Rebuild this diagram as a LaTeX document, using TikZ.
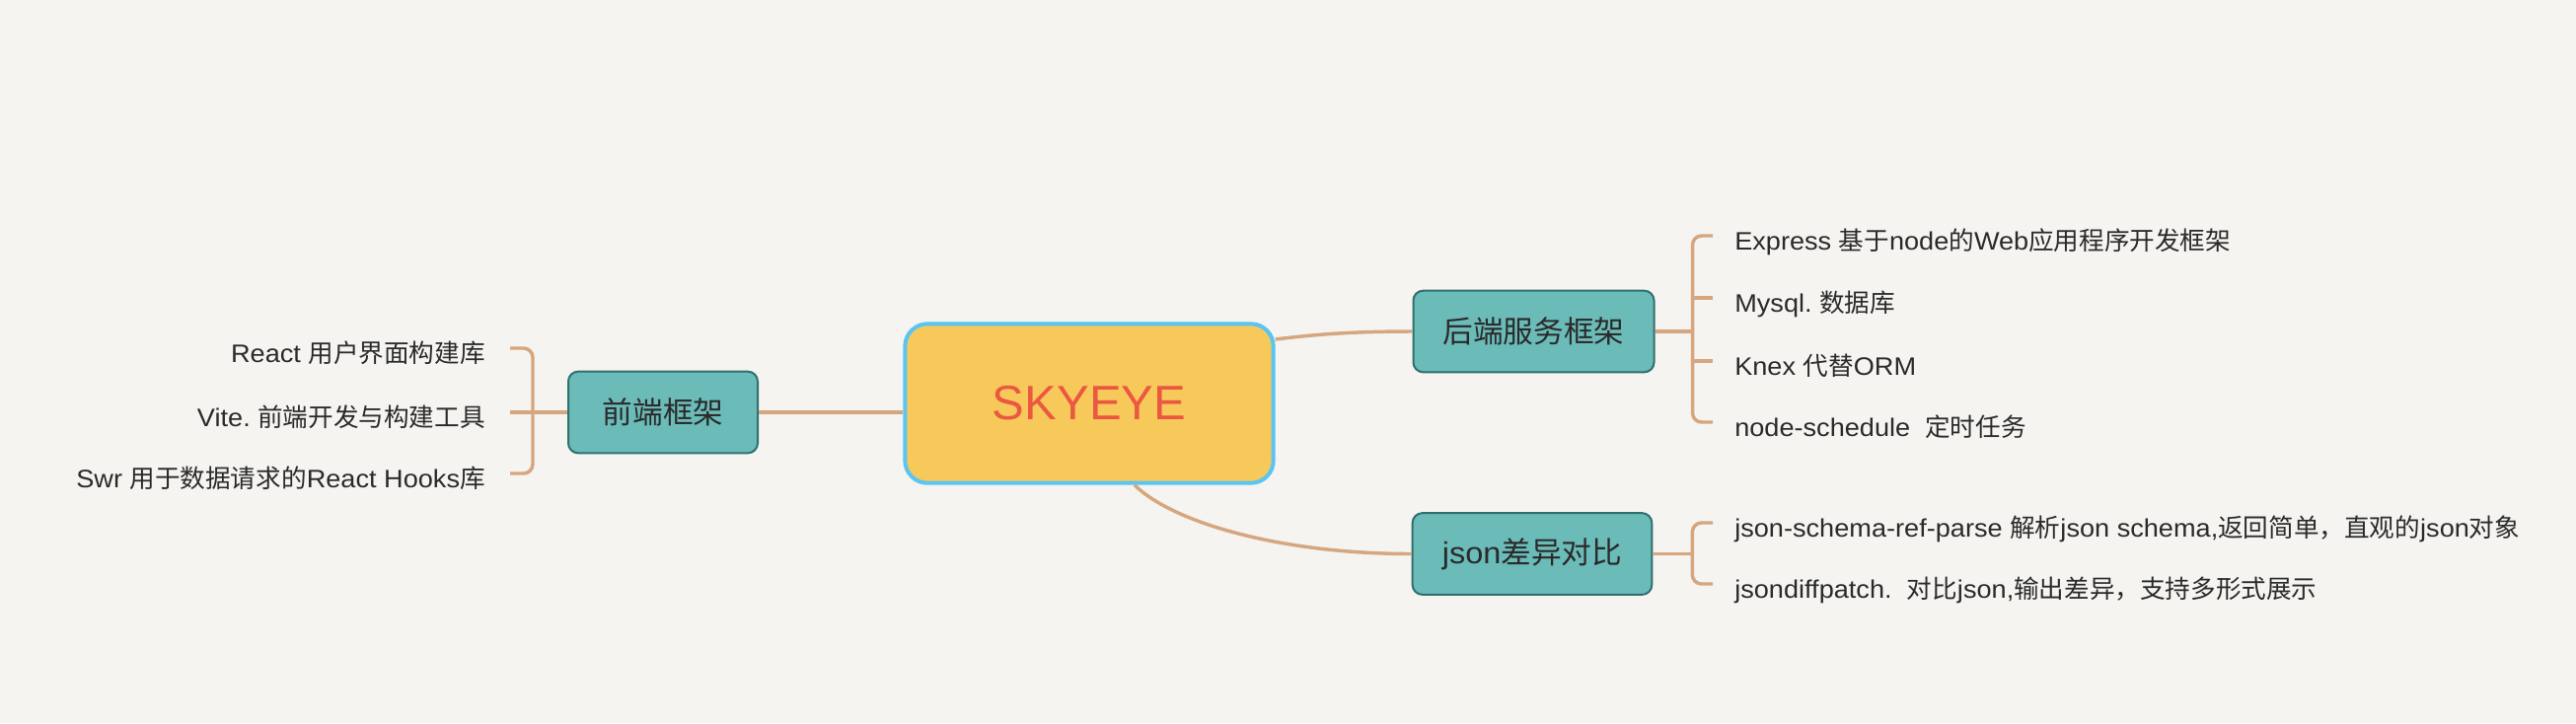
\documentclass[tikz,border=0pt]{standalone}
\usepackage{fontspec}
\setmainfont{Liberation Sans}
\newfontfamily\lat[FakeStretch=1.06]{Liberation Sans}
\newfontfamily\rootfont{Liberation Sans}
\newfontfamily\cjk{Noto Sans CJK SC}
\frenchspacing

% Han characters are set in the CJK font, the rest in \lat
\newXeTeXintercharclass\hanclass
\newcount\hanchar
\hanchar="4E00
\loop\ifnum\hanchar<"A000
  \XeTeXcharclass\hanchar=\hanclass
  \advance\hanchar by 1
\repeat
\hanchar="21
\loop\ifnum\hanchar<"7F
  \XeTeXcharclass\hanchar=0
  \advance\hanchar by 1
\repeat
\XeTeXcharclass"FF0C=\hanclass
\XeTeXinterchartoks 0 \hanclass={\cjk}
\XeTeXinterchartoks 4095 \hanclass={\cjk}
\XeTeXinterchartoks \hanclass 0={\lat}
\XeTeXinterchartokenstate=1

\definecolor{paper}{HTML}{F5F4F0}
\definecolor{tan}{HTML}{D6A67F}
\definecolor{tealfill}{HTML}{6BBBB9}
\definecolor{tealline}{HTML}{30706F}
\definecolor{rootfill}{HTML}{F7C95B}
\definecolor{rootline}{HTML}{58C5F3}
\definecolor{roottext}{HTML}{EB5841}
\definecolor{ink}{HTML}{2A2A2A}

\begin{document}
\begin{tikzpicture}[x=0.75pt,y=-0.75pt,
  root node/.style={rectangle,rounded corners=17pt,draw=rootline,line width=3pt,fill=rootfill,
    text=roottext,minimum width=280pt,minimum height=121pt,font=\fontsize{36.75}{40}\rootfont},
  main node/.style={rectangle,rounded corners=7.5pt,draw=tealline,line width=1.5pt,fill=tealfill,
    text=ink,minimum height=62pt,font=\fontsize{23}{26}\lat},
  leaf node/.style={inner sep=0pt,text=ink,font=\fontsize{19.2}{22}\lat},
  branch/.style={draw=tan,line width=2.6pt}]

  \fill[paper] (0,0) rectangle (2611,733);

  \node[root node] (0) at (1104,409) {SKYEYE};
  \node[main node,minimum width=144pt] (1) at (672,418) {前端框架};
  \node[main node,minimum width=183pt] (2) at (1554.5,336) {后端服务框架};
  \node[main node,minimum width=182pt] (3) at (1553,561.5) {json差异对比};

  \node[leaf node,anchor=base east] (11) at (492,367) {React 用户界面构建库};
  \node[leaf node,anchor=base east] (12) at (492,432) {Vite. 前端开发与构建工具};
  \node[leaf node,anchor=base east] (13) at (492,494) {Swr 用于数据请求的React Hooks库};

  \node[leaf node,anchor=base west] (21) at (1758,253) {Express 基于node的Web应用程序开发框架};
  \node[leaf node,anchor=base west] (22) at (1758,316) {Mysql. 数据库};
  \node[leaf node,anchor=base west] (23) at (1758,380) {Knex 代替ORM};
  \node[leaf node,anchor=base west] (24) at (1758,442) {node-schedule\ \ 定时任务};

  \node[leaf node,anchor=base west] (31) at (1758,544) {json-schema-ref-parse 解析json schema,返回简单，直观的json对象};
  \node[leaf node,anchor=base west] (32) at (1758,606) {jsondiffpatch.\ \ 对比json,输出差异，支持多形式展示};

  % tick ends next to the leaves
  \coordinate (t11) at ([shift={(25,-14)}]11.base east);
  \coordinate (t12) at ([shift={(25,-14)}]12.base east);
  \coordinate (t13) at ([shift={(25,-14)}]13.base east);
  \coordinate (t21) at ([shift={(-22,-14)}]21.base west);
  \coordinate (t22) at ([shift={(-22,-14)}]22.base west);
  \coordinate (t23) at ([shift={(-22,-14)}]23.base west);
  \coordinate (t24) at ([shift={(-22,-14)}]24.base west);
  \coordinate (t31) at ([shift={(-22,-14)}]31.base west);
  \coordinate (t32) at ([shift={(-22,-14)}]32.base west);

  \path (1.west) ++(-35,0) coordinate (b1);
  \path (2.east) ++(38,0) coordinate (b2);
  \path (3.east) ++(40,0) coordinate (b3);

  % main branches
  \draw[branch] (1.east) -- (1.east -| 0.west);
  \draw[branch] (0.19) .. controls +(47,-6) and +(-51,0) .. (2.west);
  \draw[branch] (0.-61) .. controls +(40,39) and +(-131,0) .. (3.west);

  % brackets
  \draw[branch] (1.west) -- (t12);
  \draw[branch,rounded corners=7pt] (t11) -| (b1) |- (t13);

  \draw[branch] (2.east) -- (b2);
  \draw[branch,rounded corners=7pt] (t21) -| (b2) |- (t24);
  \draw[branch] (t22) -- (t22 -| b2);
  \draw[branch] (t23) -- (t23 -| b2);

  \draw[branch] (3.east) -- (b3);
  \draw[branch,rounded corners=7pt] (t31) -| (b3) |- (t32);
\end{tikzpicture}
\end{document}
